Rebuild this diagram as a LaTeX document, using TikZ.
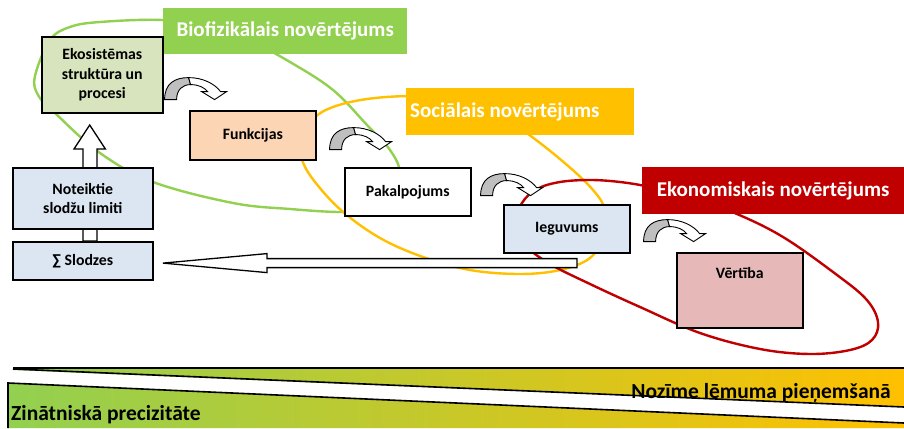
\documentclass[tikz,border=0pt]{standalone}
\usepackage{fontspec}
\setmainfont{Carlito}
\usetikzlibrary{calc}
\definecolor{cgreen}{HTML}{92D050}
\definecolor{cyellow}{HTML}{FFC000}
\definecolor{cred}{HTML}{C00000}
\definecolor{ekofill}{HTML}{D7E4BD}
\definecolor{funfill}{HTML}{FCD5B5}
\definecolor{bluefill}{HTML}{DCE6F2}
\definecolor{verfill}{HTML}{E6B9B8}
\definecolor{arrgray}{HTML}{BFBFBF}
\tikzset{
  box/.style={draw=black, line width=1.6pt, font=\bfseries\fontsize{15.8}{19.5}\selectfont, align=center, inner sep=0pt, anchor=north west},
  titlebox/.style={font=\bfseries\fontsize{21}{24}\selectfont, text=white, inner sep=0pt, anchor=north west},
  ell/.style={line width=2.4pt},
  blockarrow/.style={draw=black, fill=white, line width=1.3pt, line join=miter},
  bottomtext/.style={font=\bfseries\fontsize{21.5}{24}\selectfont, inner sep=0pt},
  curvy/.pic={
    \path[draw=black, line width=0.9pt, fill=arrgray] (0,0) .. controls (0,-16) and (10,-22) .. (24,-22) -- (26,-15) .. controls (18,-15) and (12,-10) .. (12,0) -- cycle;
    \path[draw=black, line width=0.9pt, fill=white, line join=miter] (24,-22) .. controls (38,-22) and (50,-16) .. (56,-8) -- (62,-8) -- (50,0) -- (37,-8) -- (43,-8) .. controls (40,-12) and (34,-15) .. (26,-15) -- cycle;
  }
}
\begin{document}
\begin{tikzpicture}[x=1pt,y=-1pt]
\useasboundingbox (0,0) rectangle (904,428);
\fill[white] (0,0) rectangle (904,428);

% ellipses
\draw[ell, cgreen] plot[smooth cycle, tension=0.6] coordinates {(35,76) (50,40) (70,27) (100,22) (162,20) (210,27) (250,41) (290,62) (333,90) (367,125) (390,150) (400,172) (395,195) (375,208) (343,212) (290,209) (233,203) (153,182) (100,153) (55,113) (38,95)};
\draw[ell, cyellow] plot[smooth cycle, tension=0.6] coordinates {(300,140) (313,119) (333,107) (367,99) (410,96) (450,98) (490,110) (528,134) (567,165) (593,190) (605,210) (603,236) (590,258) (560,270) (520,274) (470,270) (423,257) (380,238) (342,211) (315,182) (302,160)};
\draw[ell, cred] plot[smooth cycle, tension=0.6] coordinates {(515,225) (522,203) (537,189) (560,182) (590,180) (620,182) (650,187) (690,197) (737,214) (783,237) (833,272) (866,299) (878,322) (872,340) (850,350) (810,354) (760,349) (700,333) (640,307) (590,284) (550,264) (525,245)};

% title boxes
\node[titlebox, fill=cgreen, minimum width=244pt, minimum height=46pt] (tbio) at (163,8) {Biofizikālais novērtējums};
\node[titlebox, fill=cyellow, minimum height=47pt, text width=220pt, inner xsep=4pt, align=flush left] (tsoc) at (406,88) {Sociālais novērtējums};
\node[titlebox, fill=cred, minimum width=262pt, minimum height=47pt] (teko) at (642,167) {Ekonomiskais novērtējums};

% boxes
\node[box, fill=ekofill, minimum width=121pt, minimum height=76pt] (eko) at (41,36) {Ekosistēmas\\struktūra un\\procesi};
\node[box, fill=funfill, minimum width=126pt, minimum height=49pt] (fun) at (189,110) {Funkcijas};
\node[box, fill=white, minimum width=126pt, minimum height=48pt] (pak) at (344,167) {Pakalpojums};
\node[box, fill=bluefill, minimum width=126pt, minimum height=48pt] (ieg) at (503,204) {Ieguvums};
\node[box, fill=verfill, minimum width=126pt, minimum height=75pt] (ver) at (676,252) {};
\node[font=\bfseries\fontsize{15.8}{18}\selectfont, inner sep=0pt] (vert) at ($(ver.north)+(0,21)$) {Vērtība};
\node[box, fill=bluefill, minimum width=140pt, minimum height=38pt] (slod) at (12,241) {∑ Slodzes};

% up block arrow from Slodzes to Ekosistemas
\draw[blockarrow] (slod.north west) ++(71,0) -- ++(0,-92) -- ++(-9,0) -- ++(15.7,-24) -- ++(15.7,24) -- ++(-8.4,0) -- ++(0,92) -- cycle;
\node[box, fill=bluefill, minimum width=140pt, minimum height=61pt] (note) at (12,167) {Noteiktie\\slodžu limiti};

% left block arrow from Ieguvums to Slodzes
\draw[blockarrow] (ieg.south west) ++(74,5) -- ++(-310,0) -- ++(0,-5) -- ++(-104,9.5) -- ++(104,9.5) -- ++(0,-5) -- ++(310,0) -- cycle;

% curved arrows
\pic at ($(eko.south east)+(1,-14)$) {curvy};
\pic at ($(fun.south east)+(13,-11)$) {curvy};
\pic at ($(pak.south east)+(9,-21)$) {curvy};
\pic at ($(ieg.south east)+(13,-12)$) {curvy};

% bottom scale
\shade[left color=cgreen, right color=cyellow] (13,368) -- (904,368) -- (904,407) -- (13,370) -- cycle;
\shade[left color=cgreen, right color=cyellow] (8,383) -- (904,423) -- (904,428) -- (8,428) -- cycle;
\draw[line width=1.8pt] (13,368) -- (904,368);
\draw[line width=1.6pt] (13,369) -- (904,407);
\draw[line width=1.6pt] (8,428) -- (8,383) -- (904,423);
\node[bottomtext, anchor=base east] (noz) at (891,398) {Nozīme lēmuma pieņemšanā};
\node[bottomtext, anchor=base west] (zin) at (11,420) {Zinātniskā precizitāte};
\end{tikzpicture}
\end{document}
